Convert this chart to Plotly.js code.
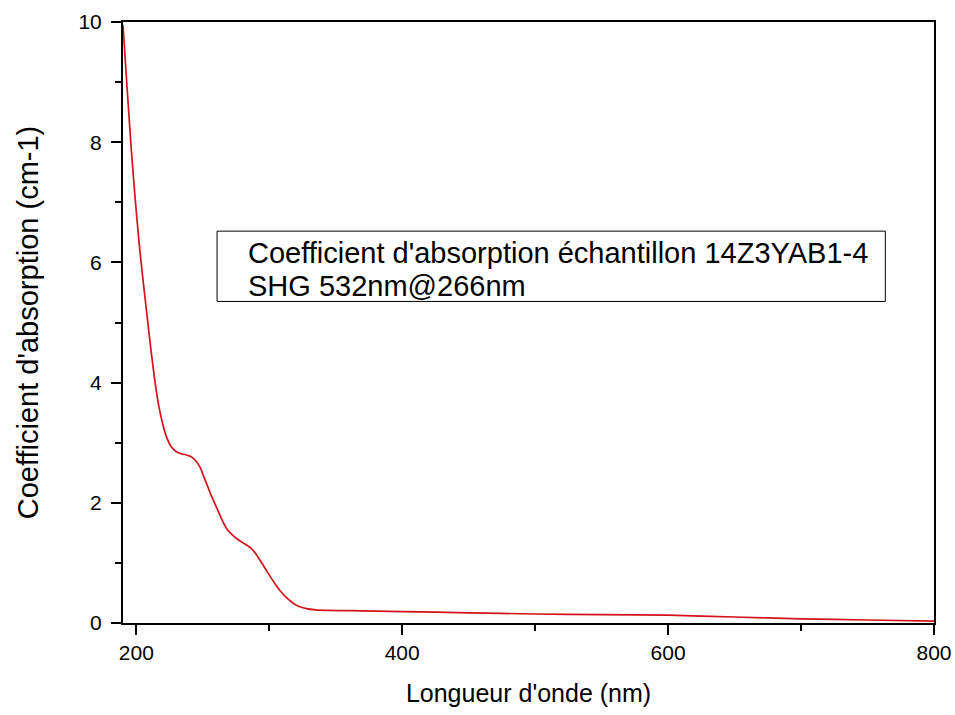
<!DOCTYPE html>
<html>
<head>
<meta charset="utf-8">
<script src="https://cdn.plot.ly/plotly-3.0.1.min.js"></script>
<style>html,body{margin:0;padding:0;background:#fff;}#chart{width:955px;height:715px;}</style>
</head>
<body>
<div id="chart"></div>
<script>
const wavelength = [190, 193, 196, 199, 202, 205, 208, 211, 214, 217, 220, 223, 226, 229, 233, 237, 241, 244, 246, 248, 250, 253, 256, 259, 262, 265, 268, 272, 277, 282, 286, 290, 294, 298, 302, 306, 310, 314, 318, 322, 328, 335, 345, 360, 400, 450, 500, 550, 600, 650, 700, 750, 800];
const absorption = [9.95, 8.93, 7.95, 7.1, 6.35, 5.72, 5.13, 4.55, 4.02, 3.6, 3.3, 3.08, 2.94, 2.87, 2.82, 2.8, 2.77, 2.72, 2.66, 2.59, 2.48, 2.31, 2.14, 1.99, 1.84, 1.69, 1.57, 1.47, 1.38, 1.31, 1.25, 1.15, 1.01, 0.87, 0.73, 0.6, 0.49, 0.4, 0.33, 0.28, 0.24, 0.22, 0.21, 0.205, 0.19, 0.17, 0.15, 0.14, 0.13, 0.1, 0.07, 0.05, 0.03];
const legendLines = ["Coefficient d'absorption échantillon 14Z3YAB1-4", "SHG 532nm@266nm"];
const xTitle = "Longueur d'onde (nm)";
const yTitle = "Coefficient d'absorption (cm-1)";

const font = "Liberation Sans, Arial, sans-serif";
const trace = {
  x: wavelength, y: absorption, type: 'scatter', mode: 'lines',
  line: {color: '#d4121c', width: 1.7, shape: 'spline', smoothing: 0.5},
  showlegend: false, hoverinfo: 'skip'
};
const axisCommon = {
  showline: true, linecolor: '#000', linewidth: 2, mirror: true,
  ticks: 'outside', ticklen: 10, tickwidth: 2, tickcolor: '#000',
  showgrid: false, zeroline: false,
  tickfont: {family: font, size: 21, color: '#000'}
};
const layout = {
  width: 955, height: 715,
  margin: {l: 123, r: 21, t: 22, b: 92},
  paper_bgcolor: '#fff', plot_bgcolor: '#fff',
  xaxis: Object.assign({}, axisCommon, {
    range: [190, 800], tickvals: [200, 400, 600, 800],
    minor: {tickvals: [300, 500, 700], ticks: 'outside', ticklen: 6, tickwidth: 2, tickcolor: '#000'},
    title: {text: xTitle, font: {family: font, size: 25, color: '#000'}, standoff: 21}
  }),
  yaxis: Object.assign({}, axisCommon, {
    range: [0, 10], tickvals: [0, 2, 4, 6, 8, 10], ticklabelstandoff: 5,
    minor: {tickvals: [1, 3, 5, 7, 9], ticks: 'outside', ticklen: 6, tickwidth: 2, tickcolor: '#000'},
    title: {text: yTitle, font: {family: font, size: 29, color: '#000'}, standoff: 31}
  }),
  shapes: [{type: 'rect', xref: 'paper', yref: 'paper', x0: 0.116, x1: 0.94, y0: 0.535, y1: 0.652,
            line: {color: '#000', width: 1}, fillcolor: 'rgba(0,0,0,0)'}],
  annotations: legendLines.map((t, i) => ({
    text: t, xref: 'paper', yref: 'paper', x: 0.152, y: i === 0 ? 0.615 : 0.56,
    xanchor: 'left', yanchor: 'middle', showarrow: false,
    font: {family: font, size: 29, color: '#000'}
  }))
};
Plotly.newPlot('chart', [trace], layout, {displayModeBar: false, staticPlot: true});
</script>
</body>
</html>
